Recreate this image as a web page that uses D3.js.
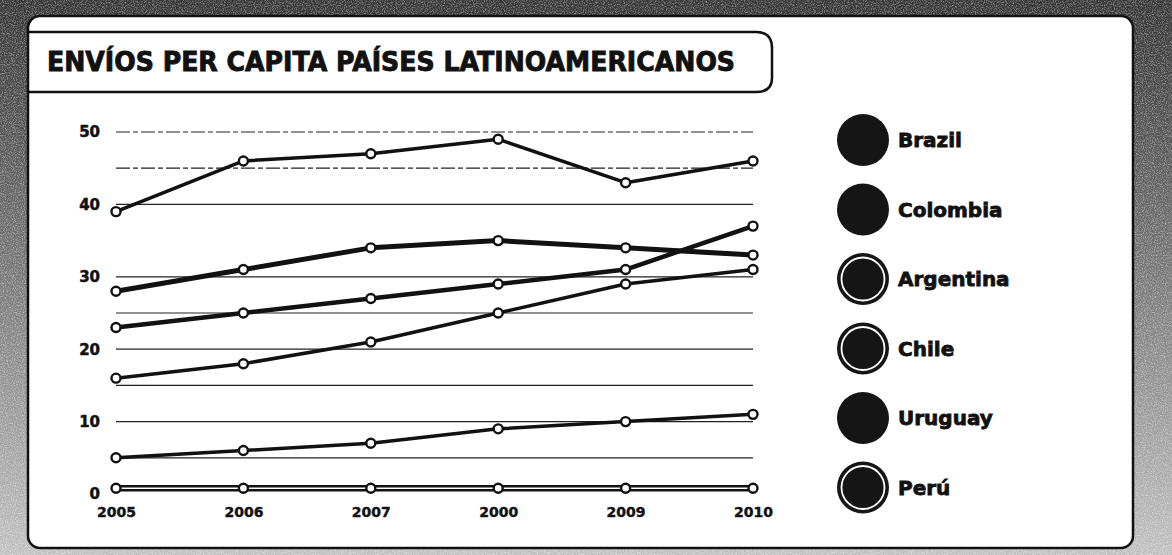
<!DOCTYPE html>
<html>
<head>
<meta charset="utf-8">
<title>Envios per capita</title>
<script src="https://cdnjs.cloudflare.com/ajax/libs/d3/7.8.5/d3.min.js"></script>
<style>
  html, body { margin: 0; padding: 0; background: #fff; }
  svg text { font-family: "DejaVu Sans", sans-serif; font-weight: bold; fill: #111; }
</style>
</head>
<body>
<svg id="chart" width="1172" height="555"></svg>
<script>
// data
var years = ["2005", "2006", "2007", "2008", "2009", "2010"];
var yearLabels = ["2005", "2006", "2007", "2000", "2009", "2010"]; // as printed
var countries = ["Brazil", "Colombia", "Argentina", "Chile", "Uruguay", "Perú"];
var brazil    = [39, 46, 47, 49, 43, 46];
var colombia  = [28, 31, 34, 35, 34, 33];
var argentina = [23, 25, 27, 29, 31, 37];
var chile     = [16, 18, 21, 25, 29, 31];
var uruguay   = [5, 6, 7, 9, 10, 11];
var peru      = [0.8, 0.8, 0.8, 0.8, 0.8, 0.8];
var yTicks = [0, 10, 20, 30, 40, 50];
var gridTicks = [5, 10, 15, 20, 25, 30, 40, 45, 50];

var series = [brazil, colombia, argentina, chile, uruguay, peru];
var lineWidth = [3.5, 5, 4.5, 3.5, 3.5, 6.5];
var ringed = [false, false, true, true, false, true];

var svg = d3.select("#chart");
var W = 1172, H = 555;

// scanned frame
var defs = svg.append("defs");
var grad = defs.append("linearGradient").attr("id", "frameGrad")
  .attr("x1", 0).attr("y1", 0).attr("x2", 0).attr("y2", 1);
grad.append("stop").attr("offset", "0%").attr("stop-color", "#333");
grad.append("stop").attr("offset", "45%").attr("stop-color", "#707070");
grad.append("stop").attr("offset", "100%").attr("stop-color", "#c0c0c0");
var f = defs.append("filter").attr("id", "grain");
f.append("feTurbulence").attr("type", "fractalNoise").attr("baseFrequency", 0.9)
  .attr("numOctaves", 2).attr("seed", 3).attr("result", "n");
f.append("feColorMatrix").attr("in", "n").attr("type", "matrix")
  .attr("values", "0 0 0 0 1  0 0 0 0 1  0 0 0 0 1  0 0 0 -2.2 1.3");
f.append("feComposite").attr("in2", "SourceGraphic").attr("operator", "in");

svg.append("rect").attr("width", W).attr("height", H).attr("fill", "url(#frameGrad)");
svg.append("rect").attr("width", W).attr("height", H).attr("fill", "#000").attr("filter", "url(#grain)").attr("opacity", 0.5);

// white panel
svg.append("rect")
  .attr("x", 28).attr("y", 16).attr("width", 1105).attr("height", 532)
  .attr("rx", 12)
  .attr("fill", "#fff").attr("stroke", "#111").attr("stroke-width", 2.5);

// title box
svg.append("path")
  .attr("d", "M28,32 H756 Q772,32 772,48 V78 Q772,92 756,92 H28")
  .attr("fill", "none").attr("stroke", "#111").attr("stroke-width", 2.5);
svg.append("text")
  .attr("x", 47).attr("y", 71)
  .attr("font-size", 26)
  .attr("stroke", "#111").attr("stroke-width", 0.9)
  .attr("textLength", 688).attr("lengthAdjust", "spacingAndGlyphs")
  .text("ENVÍOS PER CAPITA PAÍSES LATINOAMERICANOS");

// scales
var x = d3.scalePoint().domain(years).range([116, 753]);
var y = d3.scaleLinear().domain([0, 50]).range([494, 132]);

// gridlines
svg.append("g").selectAll("line").data(gridTicks).join("line")
  .attr("x1", x("2005")).attr("x2", x("2010"))
  .attr("y1", d => y(d)).attr("y2", d => y(d))
  .attr("stroke", "#222").attr("stroke-width", 1.2)
  .attr("stroke-dasharray", d => d === 50 || d === 45 ? "14 3 5 3" : null);

// y axis labels
var yAxis = d3.axisLeft(y).tickValues(yTicks).tickSize(0).tickPadding(0);
svg.append("g").attr("transform", "translate(100,0)").call(yAxis)
  .call(g => g.select(".domain").remove())
  .selectAll("text").attr("font-size", 15).attr("font-family", "DejaVu Sans")
  .attr("font-weight", "bold").attr("fill", "#111")
  .attr("stroke", "#111").attr("stroke-width", 0.5);

// x axis labels
var xAxis = d3.axisBottom(x).tickSize(0).tickPadding(0)
  .tickFormat((d, i) => yearLabels[i]);
svg.append("g").attr("transform", "translate(0,507)").call(xAxis)
  .call(g => g.select(".domain").remove())
  .selectAll("text").attr("font-size", 14).attr("font-family", "DejaVu Sans")
  .attr("font-weight", "bold").attr("fill", "#111")
  .attr("stroke", "#111").attr("stroke-width", 0.4);

// lines
var line = d3.line().x((d, i) => x(years[i])).y(d => y(d));
series.forEach(function(vals, k) {
  var g = svg.append("g");
  g.append("path").attr("d", line(vals))
    .attr("fill", "none").attr("stroke", "#111")
    .attr("stroke-width", lineWidth[k]).attr("stroke-linejoin", "round");
  if (k === 5) {
    g.append("path").attr("d", line(vals))
      .attr("fill", "none").attr("stroke", "#fff").attr("stroke-width", 1.5);
  }
  g.selectAll("circle").data(vals).join("circle")
    .attr("cx", (d, i) => x(years[i])).attr("cy", d => y(d))
    .attr("r", 4.5).attr("fill", "#fff")
    .attr("stroke", "#111").attr("stroke-width", 2.4);
});

// legend
var legend = svg.append("g").selectAll("g").data(countries).join("g")
  .attr("transform", (d, i) => "translate(863," + (140 + i * 69.5) + ")");
legend.append("circle").attr("r", 26).attr("fill", "#151515");
legend.filter((d, i) => ringed[i]).append("circle")
  .attr("r", 21.5).attr("fill", "none").attr("stroke", "#fff").attr("stroke-width", 1.8);
legend.append("text").attr("x", 35).attr("y", 7)
  .attr("font-size", 20).attr("stroke", "#111").attr("stroke-width", 0.8)
  .text(d => d);
</script>
</body>
</html>
